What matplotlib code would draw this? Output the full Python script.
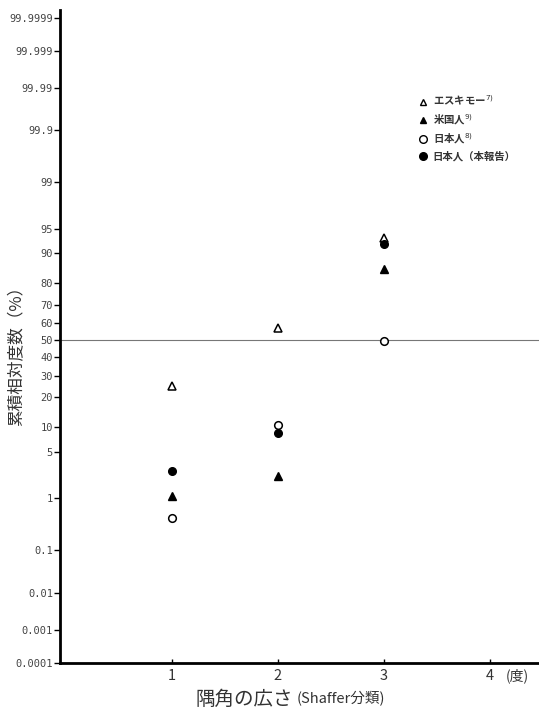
import math
import numpy as np
import matplotlib
matplotlib.use("Agg")
import matplotlib.pyplot as plt
from matplotlib.lines import Line2D

plt.rcParams['font.family'] = ['Noto Sans CJK JP', 'DejaVu Sans']

# -----------------------------
# data (cumulative relative frequency, %)
# -----------------------------
grades = [1, 2, 3]
eskimo = [25, 57, 93.4]       # open triangle
american = [1.1, 2.3, 85.4]   # filled triangle
japanese_ref = [0.44, 10.7, 49.4]   # open circle
japanese_this = [2.7, 8.5, 92.1]    # filled circle

y_ticks = [0.0001, 0.001, 0.01, 0.1, 1, 5, 10, 20, 30, 40, 50, 60, 70, 80,
           90, 95, 99, 99.9, 99.99, 99.999, 99.9999]
y_labels = ["0.0001", "0.001", "0.01", "0.1", "1", "5", "10", "20", "30", "40",
            "50", "60", "70", "80", "90", "95", "99", "99.9", "99.99", "99.999",
            "99.9999"]
x_ticks = [1, 2, 3, 4]


# -----------------------------
# normal probability scale helpers
# -----------------------------
def norm_ppf(p):
    # Acklam's rational approximation
    p = np.asarray(p, dtype=float)
    a = [-3.969683028665376e+01, 2.209460984245205e+02, -2.759285104469687e+02,
         1.383577518672690e+02, -3.066479806614716e+01, 2.506628277459239e+00]
    b = [-5.447609879822406e+01, 1.615858368580409e+02, -1.556989798598866e+02,
         6.680131188771972e+01, -1.328068155288572e+01]
    c = [-7.784894002430293e-03, -3.223964580411365e-01, -2.400758277161838e+00,
         -2.549732539343734e+00, 4.374664141464968e+00, 2.938163982698783e+00]
    d = [7.784695709041462e-03, 3.224671290700398e-01, 2.445134137142996e+00,
         3.754408661907416e+00]
    p_low = 0.02425
    out = np.zeros_like(p)
    lo = p < p_low
    hi = p > 1 - p_low
    mid = ~(lo | hi)
    q = np.sqrt(-2 * np.log(p[lo]))
    out[lo] = (((((c[0]*q+c[1])*q+c[2])*q+c[3])*q+c[4])*q+c[5]) / \
              ((((d[0]*q+d[1])*q+d[2])*q+d[3])*q+1)
    q = p[mid] - 0.5
    r = q*q
    out[mid] = (((((a[0]*r+a[1])*r+a[2])*r+a[3])*r+a[4])*r+a[5])*q / \
               (((((b[0]*r+b[1])*r+b[2])*r+b[3])*r+b[4])*r+1)
    q = np.sqrt(-2 * np.log(1 - p[hi]))
    out[hi] = -(((((c[0]*q+c[1])*q+c[2])*q+c[3])*q+c[4])*q+c[5]) / \
               ((((d[0]*q+d[1])*q+d[2])*q+d[3])*q+1)
    return out


_erf = np.vectorize(math.erf)


def forward(pct):
    p = np.clip(np.asarray(pct, dtype=float) / 100.0, 1e-12, 1 - 1e-12)
    return norm_ppf(p)


def inverse(z):
    z = np.asarray(z, dtype=float)
    return 100.0 * 0.5 * (1 + _erf(z / math.sqrt(2)))


# -----------------------------
# plot
# -----------------------------
fig = plt.figure(figsize=(5.39, 7.09), dpi=100)
ax = fig.add_axes([60 / 539, 46 / 709, 1 - 60 / 539, (663 - 10) / 709])
ax.set_yscale('function', functions=(forward, inverse))

ax.axhline(50, color="#777777", lw=0.8, zorder=1)

ms = 5.5
ax.plot(grades, eskimo, ls="none", marker="^", mfc="white", mec="black", mew=1.1, ms=ms)
ax.plot(grades, american, ls="none", marker="^", color="black", ms=ms)
ax.plot(grades, japanese_ref, ls="none", marker="o", mfc="white", mec="black", mew=1.1, ms=ms)
ax.plot(grades, japanese_this, ls="none", marker="o", color="black", ms=ms)

ax.set_xlim(-0.05, 4.46)
ax.set_ylim(0.0001, inverse(4.864))

ax.set_yticks(y_ticks)
ax.set_yticklabels(y_labels, fontsize=7.5, color="#444444", family="DejaVu Sans Mono")
ax.minorticks_off()
ax.tick_params(axis="y", direction="out", length=4, width=1, pad=1)

ax.set_xticks(x_ticks)
ax.set_xticklabels([str(v) for v in x_ticks], fontsize=10.5, color="#333333")
ax.tick_params(axis="x", direction="in", length=3, width=1, pad=4)
ax.text(4.15, -0.0075, "(度)", transform=ax.get_xaxis_transform(),
        fontsize=10, color="#333333", ha="left", va="top")

for s in ["top", "right"]:
    ax.spines[s].set_visible(False)
ax.spines["left"].set_linewidth(2)
ax.spines["bottom"].set_linewidth(2)

fig.text(17 / 539, 1 - 352 / 709, "累積相対度数（%）", rotation=90,
         fontsize=12, color="#333333", ha="center", va="center")
fig.text(293 / 539, 1 - 699 / 709, "隅角の広さ", fontsize=14, color="#333333",
         ha="right", va="center")
fig.text(297 / 539, 1 - 699 / 709, "(Shaffer分類)", fontsize=10.5, color="#333333",
         ha="left", va="center")

handles = [
    Line2D([], [], ls="none", marker="^", mfc="white", mec="black", mew=1.0, ms=5),
    Line2D([], [], ls="none", marker="^", color="black", ms=5),
    Line2D([], [], ls="none", marker="o", mfc="white", mec="black", mew=1.0, ms=5.5),
    Line2D([], [], ls="none", marker="o", color="black", ms=5.5),
]
labels = ["エスキモー$^{7)}$", "米国人$^{9)}$", "日本人$^{8)}$", "日本人（本報告）"]
leg = ax.legend(handles, labels, loc="upper left", bbox_to_anchor=(414 / 539, 1 - 89 / 709),
                bbox_transform=fig.transFigure, frameon=False, fontsize=7.5,
                handlelength=0.8, handletextpad=0.5, labelspacing=0.42, borderpad=0)
for t in leg.get_texts():
    t.set_fontweight("bold")
    t.set_color("#333333")

fig.savefig("out.png", dpi=100)
